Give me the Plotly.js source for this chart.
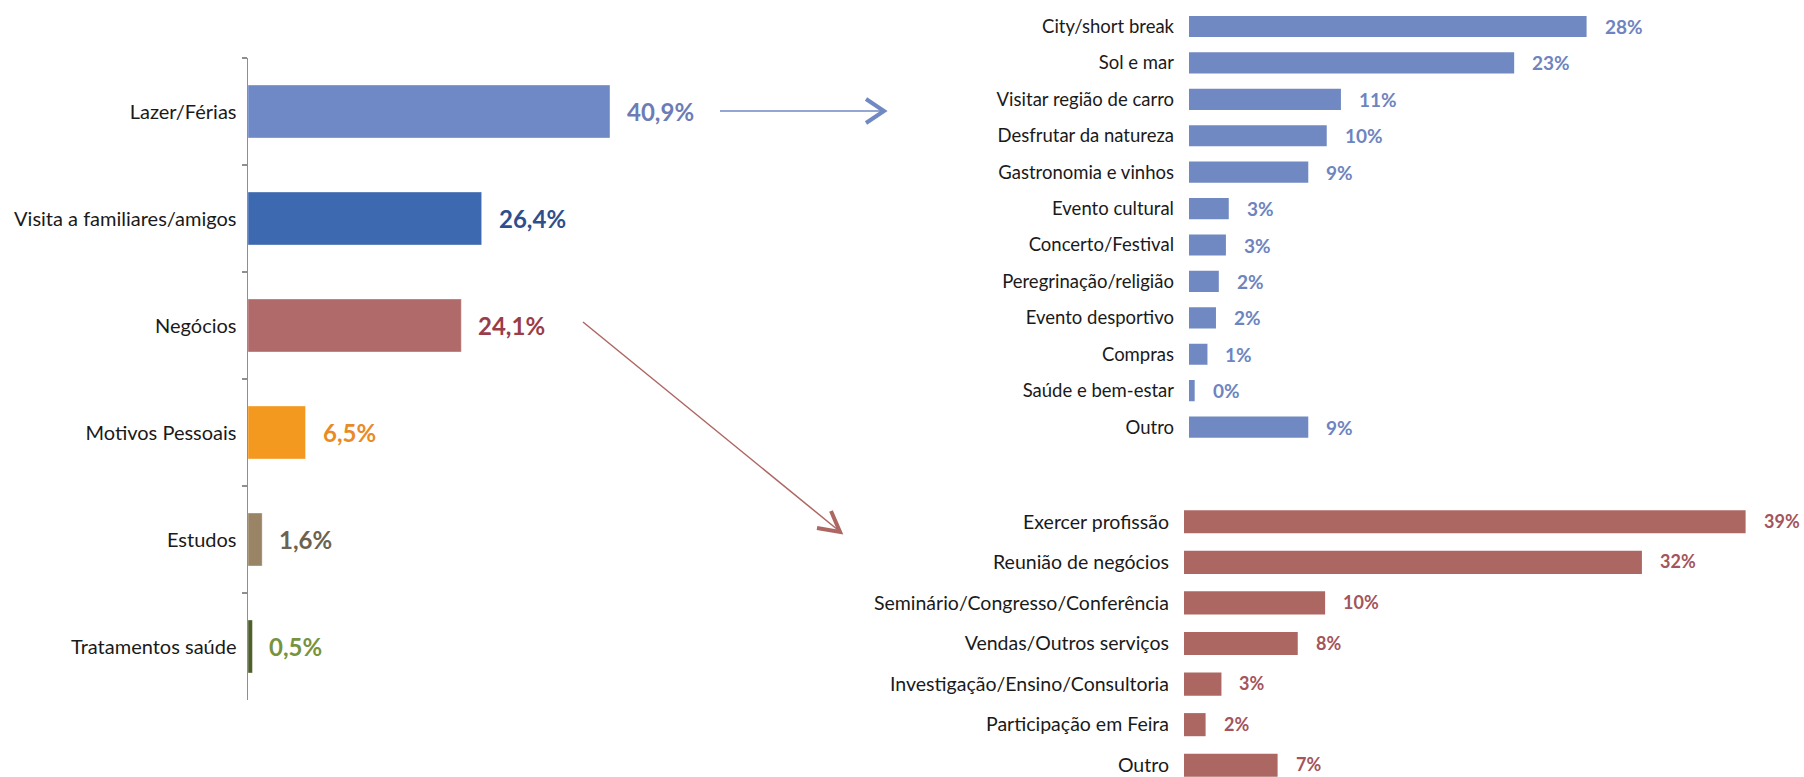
<!DOCTYPE html>
<html>
<head>
<meta charset="utf-8">
<script src="https://cdn.plot.ly/plotly-3.0.1.min.js"></script>
<style>
  html, body { margin: 0; padding: 0; background: #fff; }
  #chart { width: 1804px; height: 777px; }
</style>
</head>
<body>
<div id="chart"></div>
<script>
// Motivos da viagem (left chart)
const motivos = ['Lazer/Férias', 'Visita a familiares/amigos', 'Negócios', 'Motivos Pessoais', 'Estudos', 'Tratamentos saúde'];
const motivosPct = [40.9, 26.4, 24.1, 6.5, 1.6, 0.5];
const motivosCores = ['#6f88c6', '#3c69b0', '#b06a6a', '#f3991f', '#9a8466', '#4d5f2a'];
const motivosCoresTexto = ['#6c7cb6', '#2f4f8c', '#9a3d4a', '#ea8a25', '#6b6350', '#77933c'];

// Lazer/Férias breakdown (top right)
const lazer = ['City/short break', 'Sol e mar', 'Visitar região de carro', 'Desfrutar da natureza', 'Gastronomia e vinhos',
  'Evento cultural', 'Concerto/Festival', 'Peregrinação/religião', 'Evento desportivo', 'Compras', 'Saúde e bem-estar', 'Outro'];
const lazerPct = [28.0, 22.9, 10.7, 9.7, 8.4, 2.8, 2.6, 2.1, 1.9, 1.3, 0.4, 8.4];
const lazerTexto = ['28%', '23%', '11%', '10%', '9%', '3%', '3%', '2%', '2%', '1%', '0%', '9%'];

// Negócios breakdown (bottom right)
const negocios = ['Exercer profissão', 'Reunião de negócios', 'Seminário/Congresso/Conferência', 'Vendas/Outros serviços',
  'Investigação/Ensino/Consultoria', 'Participação em Feira', 'Outro'];
const negociosPct = [39.0, 31.8, 9.8, 7.9, 2.6, 1.5, 6.5];
const negociosTexto = ['39%', '32%', '10%', '8%', '3%', '2%', '7%'];

const W = 1804, H = 777;
const px = x => x / W;
const py = y => 1 - y / H;

const FONT = 'Lato, "Open Sans", sans-serif';
const AZUL = '#7189c2';
const AZUL_TXT = '#6e84c0';
const VERM = '#ad6763';
const VERM_TXT = '#a4545a';

const traces = [
  {
    type: 'bar', orientation: 'h',
    x: motivosPct, y: motivos,
    xaxis: 'x', yaxis: 'y',
    width: 0.495,
    marker: { color: motivosCores, line: { color: 'rgba(255,255,255,0.35)', width: 1 } },
    hoverinfo: 'none'
  },
  {
    type: 'bar', orientation: 'h',
    x: lazerPct, y: lazer,
    xaxis: 'x2', yaxis: 'y2',
    width: 0.58,
    marker: { color: AZUL },
    hoverinfo: 'none'
  },
  {
    type: 'bar', orientation: 'h',
    x: negociosPct, y: negocios,
    xaxis: 'x3', yaxis: 'y3',
    width: 0.57,
    marker: { color: VERM },
    hoverinfo: 'none'
  }
];

// value labels next to each bar
const annotations = [];
motivos.forEach((m, i) => {
  annotations.push({
    xref: 'x', yref: 'y', x: motivosPct[i], y: m,
    text: '<b>' + motivosPct[i].toFixed(1).replace('.', ',') + '%</b>',
    showarrow: false, xanchor: 'left', xshift: 15,
    font: { family: FONT, size: 24, color: motivosCoresTexto[i] }
  });
});
lazer.forEach((c, i) => {
  annotations.push({
    xref: 'x2', yref: 'y2', x: lazerPct[i], y: c,
    text: '<b>' + lazerTexto[i] + '</b>',
    showarrow: false, xanchor: 'left', xshift: 16,
    font: { family: FONT, size: 19, color: AZUL_TXT }
  });
});
negocios.forEach((c, i) => {
  annotations.push({
    xref: 'x3', yref: 'y3', x: negociosPct[i], y: c,
    text: '<b>' + negociosTexto[i] + '</b>',
    showarrow: false, xanchor: 'left', xshift: 16, yshift: 1,
    font: { family: FONT, size: 18, color: VERM_TXT }
  });
});

// connecting arrows (pixel positions -> paper)
function pathOf(pts) {
  return pts.map((p, i) => (i ? 'L ' : 'M ') + px(p[0]) + ' ' + py(p[1])).join(' ');
}
const shapes = [
  { type: 'line', xref: 'paper', yref: 'paper', x0: px(720), y0: py(111), x1: px(883), y1: py(111),
    line: { color: AZUL, width: 1.5 } },
  { type: 'path', xref: 'paper', yref: 'paper', path: pathOf([[866, 99], [884, 111], [866, 123]]),
    line: { color: AZUL, width: 4 } },
  { type: 'line', xref: 'paper', yref: 'paper', x0: px(583), y0: py(322), x1: px(838), y1: py(530),
    line: { color: VERM, width: 1.5 } },
  { type: 'path', xref: 'paper', yref: 'paper', path: pathOf([[831, 511], [840, 532], [817, 528]]),
    line: { color: VERM, width: 4 } }
];

const hidden = { visible: false, showgrid: false, zeroline: false, fixedrange: true };

const layout = {
  width: W, height: H,
  margin: { l: 0, r: 0, t: 0, b: 0 },
  paper_bgcolor: '#fff', plot_bgcolor: 'rgba(0,0,0,0)',
  showlegend: false,
  font: { family: FONT, color: '#1a1a1a' },
  xaxis: Object.assign({}, hidden, { domain: [px(248), px(690.5)], range: [0, 50], anchor: 'y' }),
  yaxis: {
    domain: [py(700), py(58)], anchor: 'x',
    type: 'category', range: [5.5, -0.5],
    showline: true, linecolor: '#8f8f8f', linewidth: 1.5,
    ticks: 'outside', tickson: 'boundaries', ticklen: 5, tickcolor: '#8f8f8f', tickwidth: 1.5,
    ticklabelstandoff: 6,
    showgrid: false, zeroline: false,
    tickfont: { family: FONT, size: 20, color: '#1a1a1a' }
  },
  xaxis2: Object.assign({}, hidden, { domain: [px(1189), px(1615)], range: [0, 30], anchor: 'y2' }),
  yaxis2: {
    domain: [py(445.3), py(8.3)], anchor: 'x2',
    type: 'category', range: [11.5, -0.5],
    showline: false, ticks: '', showgrid: false, zeroline: false,
    ticklabelstandoff: 14,
    tickfont: { family: FONT, size: 18.5, color: '#1a1a1a' }
  },
  xaxis3: Object.assign({}, hidden, { domain: [px(1184), px(1760)], range: [0, 40], anchor: 'y3' }),
  yaxis3: {
    domain: [0, py(501.5)], anchor: 'x3',
    type: 'category', range: [6.29, -0.5],
    showline: false, ticks: '', showgrid: false, zeroline: false,
    ticklabelstandoff: 14,
    tickfont: { family: FONT, size: 19.5, color: '#1a1a1a' }
  },
  annotations: annotations,
  shapes: shapes
};

Plotly.newPlot('chart', traces, layout, { displayModeBar: false, staticPlot: true });
</script>
</body>
</html>
